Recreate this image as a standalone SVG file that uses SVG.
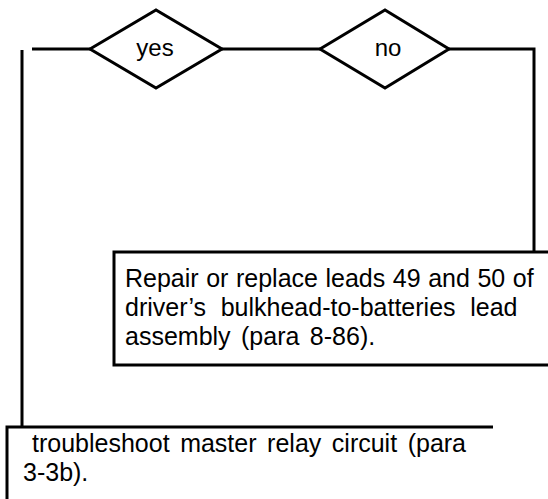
<svg xmlns="http://www.w3.org/2000/svg" width="548" height="499" viewBox="0 0 548 499">
<style>
.ln{fill:none;stroke:#000;stroke-width:3;stroke-linejoin:miter}
.sh{fill:#fff;stroke:#000;stroke-width:3}
.t{font-family:"Liberation Sans",Arial,sans-serif;font-size:25px;fill:#000}
.d{font-family:"Liberation Sans",Arial,sans-serif;font-size:24px;fill:#000;text-anchor:middle}
</style>
<rect width="548" height="499" fill="#fff"/>
<g id="connectors">
<path class="ln" d="M32,49 H90"/>
<path class="ln" d="M22,50 V427"/>
<path class="ln" d="M222,49 H320"/>
<path class="ln" d="M449,49 H534 V252"/>
</g>
<g id="yes">
<polygon class="sh" points="90,49 156,10 222,49 156,88"/>
<text class="d" x="155" y="56">yes</text>
</g>
<g id="no">
<polygon class="sh" points="320,49 385,10 449,49 385,88"/>
<text class="d" x="388" y="56">no</text>
</g>
<g id="repair">
<rect class="sh" x="114" y="252" width="450" height="113"/>
<text class="t" x="125" y="287" word-spacing="0.6">Repair or replace leads 49 and 50 of</text>
<text class="t" x="125" y="316" word-spacing="7.7">driver’s bulkhead-to-batteries lead</text>
<text class="t" x="125" y="345" word-spacing="3.5">assembly (para 8-86).</text>
</g>
<g id="troubleshoot">
<path class="ln" d="M493,427 H7 V510"/>
<text class="t" x="32" y="452" word-spacing="3.6">troubleshoot master relay circuit (para</text>
<text class="t" x="23" y="481">3-3b).</text>
</g>
</svg>
